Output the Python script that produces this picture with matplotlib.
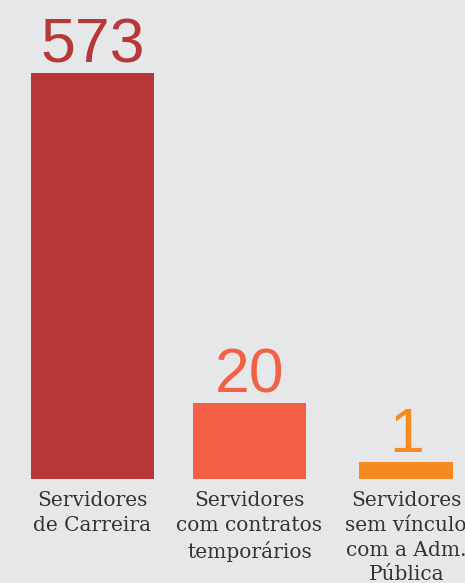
import numpy as np
import matplotlib
matplotlib.use("Agg")
import matplotlib.pyplot as plt
from matplotlib import font_manager

# --- data ---
labels = ["Servidores\nde Carreira",
          "Servidores\ncom contratos\ntemporários",
          "Servidores\nsem vínculo\ncom a Adm.\nPública"]
values = [573, 20, 1]
colors = ["#b83738", "#f26146", "#f68a22"]
widths = [0.78, 0.72, 0.60]

BG = "#e6e7e9"

names = {f.name for f in font_manager.fontManager.ttflist}
serif = "DejaVu Serif Condensed" if "DejaVu Serif Condensed" in names else "DejaVu Serif"

fig = plt.figure(figsize=(4.65, 5.83), dpi=100, facecolor=BG)
ax = fig.add_axes([0, 104 / 583, 1, 406 / 583])
ax.set_facecolor(BG)

x = np.arange(len(values))
# bars are drawn on a square-root scale so the small counts stay visible
ax.set_yscale("function", functions=(np.sqrt, np.square))
ax.bar(x, values, width=widths, color=colors, linewidth=0)
ax.set_ylim(0, 573)
ax.set_xlim(-0.59, 2.375)

for xi, v, c in zip(x, values, colors):
    ax.annotate(str(v), (xi, v), xytext=(0, 7.5), textcoords="offset points",
                ha="center", va="baseline", fontsize=45, color=c,
                family="Liberation Sans", annotation_clip=False)

for xi, lab in zip(x, labels):
    ax.annotate(lab, (xi, 0), xytext=(0, -9), textcoords="offset points",
                ha="center", va="top", fontsize=14.5, color="#333333",
                family=serif, linespacing=1.37, annotation_clip=False)

ax.axis("off")
fig.savefig("out.png", dpi=100, facecolor=BG)
